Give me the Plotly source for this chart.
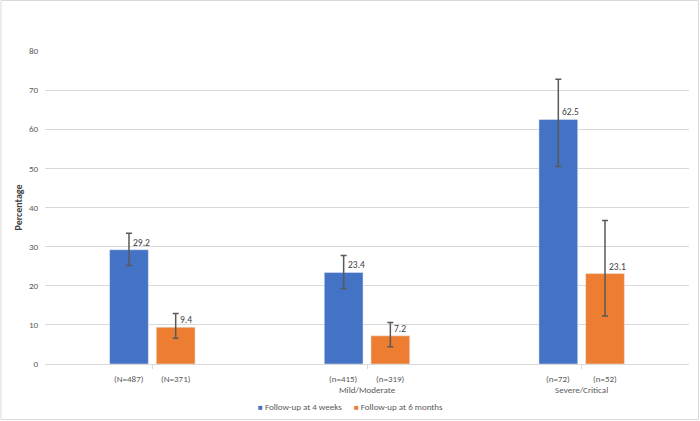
import plotly.graph_objects as go

# ---- data ----
categories = ["", "Mild/Moderate", "Severe/Critical"]
n_4weeks = ["(N=487)", "(n=415)", "(n=72)"]
n_6months = ["(N=371)", "(n=319)", "(n=52)"]
pct_4weeks = [29.2, 23.4, 62.5]
ci_low_4weeks = [25.2, 19.3, 50.5]
ci_high_4weeks = [33.4, 27.7, 72.8]
pct_6months = [9.4, 7.2, 23.1]
ci_low_6months = [6.6, 4.4, 12.3]
ci_high_6months = [12.9, 10.6, 36.7]
series_names = ["Follow-up at 4 weeks", "Follow-up at 6 months"]
y_ticks = [0, 10, 20, 30, 40, 50, 60, 70, 80]

# ---- style ----
W, H = 700, 421
ML, MR, MT, MB = 45, 11, 51, 57
BLUE, ORANGE = "#4472C4", "#ED7D31"
FONT = "Carlito, Lato, sans-serif"
TXT = "#595959"
GRID = "#D9D9D9"
BARGAP = 0.565
BARGROUPGAP = 0.17

x_idx = list(range(len(categories)))
slot = (1 - BARGAP) / 2
offs = [-slot / 2, slot / 2]
colors = [BLUE, ORANGE]

fig = go.Figure()
series = [
    (pct_4weeks, ci_low_4weeks, ci_high_4weeks, n_4weeks),
    (pct_6months, ci_low_6months, ci_high_6months, n_6months),
]
for (vals, lo, hi, nl), name, col in zip(series, series_names, colors):
    fig.add_trace(go.Bar(
        x=x_idx, y=vals, name=name, marker_color=col, showlegend=False,
        error_y=dict(type="data", symmetric=False,
                     array=[h - v for h, v in zip(hi, vals)],
                     arrayminus=[v - l for v, l in zip(vals, lo)],
                     color=TXT, thickness=1.5, width=3),
    ))

pw = W - ML - MR
ph = H - MT - MB

annotations = []
for si, (vals, lo, hi, nl) in enumerate(series):
    for i, v in enumerate(vals):
        xc = x_idx[i] + offs[si]
        annotations.append(dict(
            x=xc, y=v, xref="x", yref="y", text=f"{v}", showarrow=False,
            xanchor="left", yanchor="bottom", xshift=2, yshift=-1,
            font=dict(family=FONT, size=9.5, color="#404040")))
        annotations.append(dict(
            x=xc, y=0, xref="x", yref="paper", text=nl[i], showarrow=False,
            xanchor="center", yanchor="top", yshift=-7,
            font=dict(family=FONT, size=9, color=TXT)))

# legend drawn as text with coloured square glyphs
legend_text = "      ".join(
    f"<span style='color:{c};font-size:8px'>■</span> {n}"
    for c, n in zip(colors, series_names))
annotations.append(dict(
    x=(W / 2 - ML) / pw, y=0, xref="paper", yref="paper", yshift=-42,
    xanchor="center", yanchor="middle", text=legend_text, showarrow=False,
    font=dict(family=FONT, size=9, color=TXT)))

fig.update_layout(
    width=W, height=H,
    margin=dict(l=ML, r=MR, t=MT, b=MB, autoexpand=False),
    paper_bgcolor="white", plot_bgcolor="white",
    barmode="group", bargap=BARGAP, bargroupgap=BARGROUPGAP,
    font=dict(family=FONT, size=9, color=TXT),
    showlegend=False,
    xaxis=dict(
        tickmode="array", tickvals=x_idx, ticktext=categories,
        range=[-0.5, len(categories) - 0.5],
        showgrid=False, showline=True, linecolor=GRID, linewidth=1,
        ticks="outside", tickson="boundaries", ticklen=4, tickcolor=GRID,
        ticklabelstandoff=13, tickfont=dict(family=FONT, size=9, color=TXT),
        zeroline=False,
    ),
    yaxis=dict(
        range=[0, 80], tickvals=y_ticks, showgrid=True, gridcolor=GRID,
        gridwidth=1, zeroline=False, showline=False, ticks="",
        ticklabelstandoff=6, tickfont=dict(family=FONT, size=9, color=TXT),
        title=dict(text="<b>Percentage</b>", standoff=4,
                   font=dict(family=FONT, size=10, color="#404040")),
    ),
    annotations=annotations,
    shapes=[dict(type="rect", xref="paper", yref="paper",
                 x0=-(ML - 1) / pw, x1=1 + (MR - 1.5) / pw,
                 y0=-(MB - 1.5) / ph, y1=1 + (MT - 0.5) / ph,
                 line=dict(color=GRID, width=1), layer="below")],
)

fig.write_html(
    "out.html",
    config={"displayModeBar": False},
    post_script="document.body.style.margin='0';document.body.style.overflow='hidden';",
)
